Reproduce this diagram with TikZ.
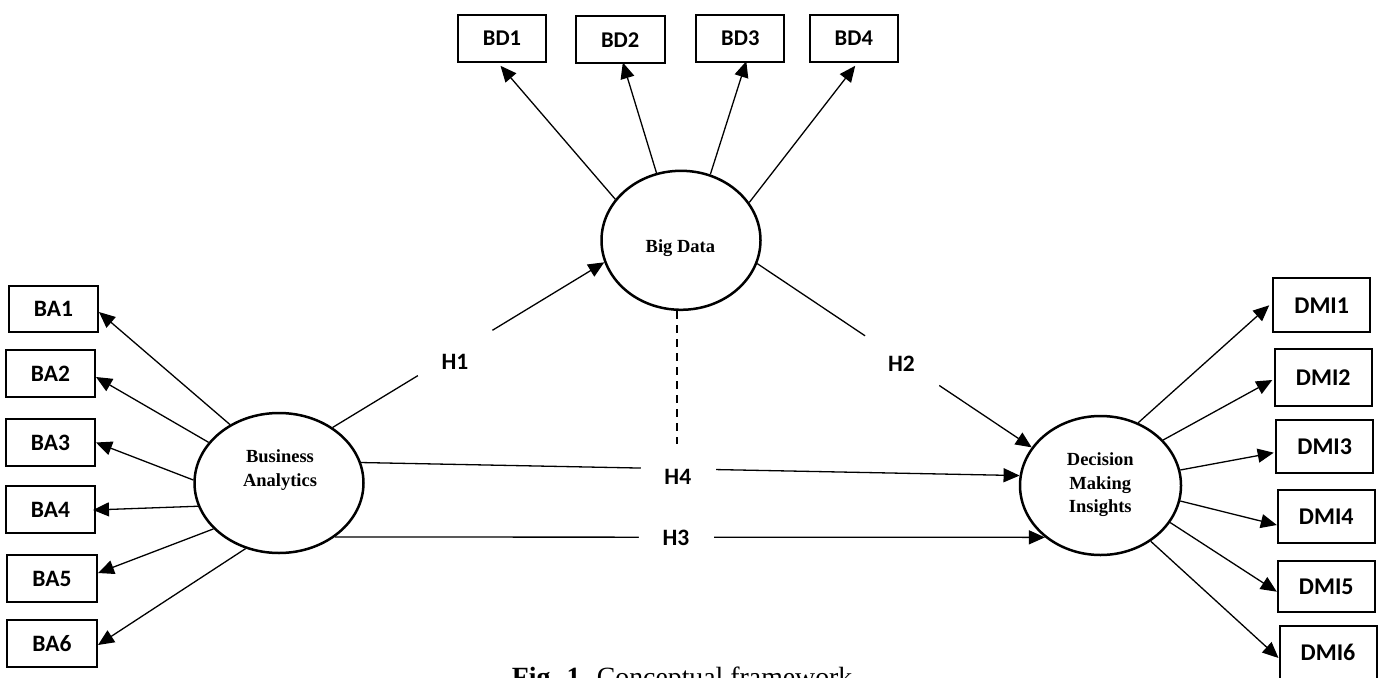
\documentclass[tikz,border=0pt]{standalone}
\usepackage{fontspec}
\setmainfont{Liberation Serif}
\newfontfamily\calfont{Carlito}
\usetikzlibrary{arrows.meta,shapes.geometric,calc}
\begin{document}
\begin{tikzpicture}[x=1pt,y=-1pt,
  arr/.style={line width=1.3pt,-{Triangle[length=16pt,width=14pt]}},
  ind/.style={draw,line width=2pt,inner sep=0pt,font=\calfont\bfseries\fontsize{23.5}{27}\selectfont},
  babox/.style={ind,minimum width=89pt,minimum height=47pt},
  bdbox/.style={ind,minimum width=88pt,minimum height=47pt,font=\calfont\bfseries\fontsize{22.5}{26}\selectfont},
  dmibox/.style={ind,minimum width=97pt,minimum height=53pt,font=\calfont\bfseries\fontsize{24}{27}\selectfont},
  lat/.style={draw,ellipse,line width=2.5pt,inner sep=0pt},
  lattxt/.style={align=center,inner sep=0pt,font=\bfseries\fontsize{18.5}{23.5}\selectfont},
  hlab/.style={inner sep=0pt,font=\calfont\bfseries\fontsize{23.5}{26}\selectfont},
  gapnode/.style={sloped,fill=white,inner sep=0pt,minimum height=6pt}
]
\useasboundingbox (0,0) rectangle (1378,677);
\clip (0,0) rectangle (1378,677);

% latent variables
\node[lat,minimum width=169pt,minimum height=140pt] (ba) at (279,483) {};
\node[lat,minimum width=159pt,minimum height=139pt] (bd) at (681,240.3) {};
\node[lat,minimum width=161pt,minimum height=139pt] (dmi) at (1100.5,485.5) {};
\node[lattxt] (batxt) at (280,470) {Business\\Analytics};
\node[lattxt] (bdtxt) at (680.4,248) {Big Data};
\node[lattxt] (dmitxt) at (1100.3,485) {Decision\\Making\\Insights};

% BA indicators
\node[babox,minimum width=89pt,minimum height=46pt] (ba1) at (53.5,309) {BA1};
\node[babox] (ba2) at (50.5,373.5) {BA2};
\node[babox] (ba3) at (50.5,442.5) {BA3};
\node[babox] (ba4) at (50.5,509.5) {BA4};
\node[babox,minimum width=90pt] (ba5) at (52,578.5) {BA5};
\node[babox,minimum width=90pt] (ba6) at (52,643.5) {BA6};

% BD indicators
\node[bdbox] (bd1) at (502,38.3) {BD1};
\node[bdbox,minimum width=89pt] (bd2) at (620.2,40) {BD2};
\node[bdbox] (bd3) at (740.3,38.7) {BD3};
\node[bdbox] (bd4) at (853.8,38.3) {BD4};

% DMI indicators
\node[dmibox,minimum height=54pt] (dmi1) at (1321.7,305.3) {DMI1};
\node[dmibox,minimum height=56.5pt] (dmi2) at (1323.3,377.7) {DMI2};
\node[dmibox] (dmi3) at (1324.7,446.7) {DMI3};
\node[dmibox] (dmi4) at (1326.3,516.3) {DMI4};
\node[dmibox,minimum height=51pt] (dmi5) at (1326.3,586.3) {DMI5};
\node[dmibox] (dmi6) at (1328,652.5) {DMI6};

% BA arrows
\draw[arr] (ba.130.3) -- ($(ba1.east)+(0,3)$);
\draw[arr] (ba.150.6) -- ($(ba2.east)+(0,3.5)$);
\draw[arr] (ba.178) -- (ba3.east);
\draw[arr] (ba.196.5) -- ($(ba4.east)+(-3,0.5)$);
\draw[arr] (ba.215.5) -- ($(ba5.east)+(0,-5.5)$);
\draw[arr] (ba.243) -- ($(ba6.east)+(0,1.5)$);

% BD arrows
\draw[arr] (bd.148.5) -- ($(bd1.south)+(-1.5,3)$);
\draw[arr] (bd.110) -- ($(bd2.south)+(2.6,-2)$);
\draw[arr] (bd.66.4) -- ($(bd3.south)+(6,-2)$);
\draw[arr] (bd.29.8) -- ($(bd4.south)+(1.4,3)$);

% DMI arrows
\draw[arr] (dmi.59.4) -- ($(dmi1.west)+(-3,0)$);
\draw[arr] (dmi.36.6) -- ($(dmi2.west)+(-1.5,2.3)$);
\draw[arr] (dmi.11.9) -- ($(dmi3.west)+(-1.5,6)$);
\draw[arr] (dmi.-11.2) -- ($(dmi4.west)+(0,8.7)$);
\draw[arr] (dmi.-28) -- ($(dmi5.west)+(0,5.4)$);
\draw[arr] (dmi.-48.8) -- ($(dmi6.west)+(0,5.5)$);

% structural paths
\draw[arr] (ba.46.6) -- node[gapnode,pos=0.451,minimum width=87pt] (g1) {} (bd.196.3);
\draw[arr] (bd.-17.8) -- node[gapnode,pos=0.528,minimum width=89pt] (g2) {} (dmi.151.4);
\draw[arr] (ba.14.8) -- node[gapnode,pos=0.482,minimum width=75pt] (g4) {} (dmi.173.4);
\draw[arr] (ba.-44.7) -- node[gapnode,pos=0.481,minimum width=75pt] (g3) {} (dmi.223.9);

\coordinate (dend) at (677.3,444);
\draw[line width=2pt,dash pattern=on 8pt off 6pt] (dend |- bd.south) -- (dend);

% hypothesis labels
\node[hlab] (h1) at (455,362) {H1};
\node[hlab] (h2) at (901.5,364) {H2};
\node[hlab] (h4) at (677.8,476.7) {H4};
\node[hlab] (h3) at (676,537.5) {H3};

% caption
\node[anchor=base west,inner sep=0pt,font=\fontsize{27.8}{32}\selectfont] (cap) at (511.7,686.7) {\textbf{Fig. 1}. Conceptual framework};
\end{tikzpicture}
\end{document}
